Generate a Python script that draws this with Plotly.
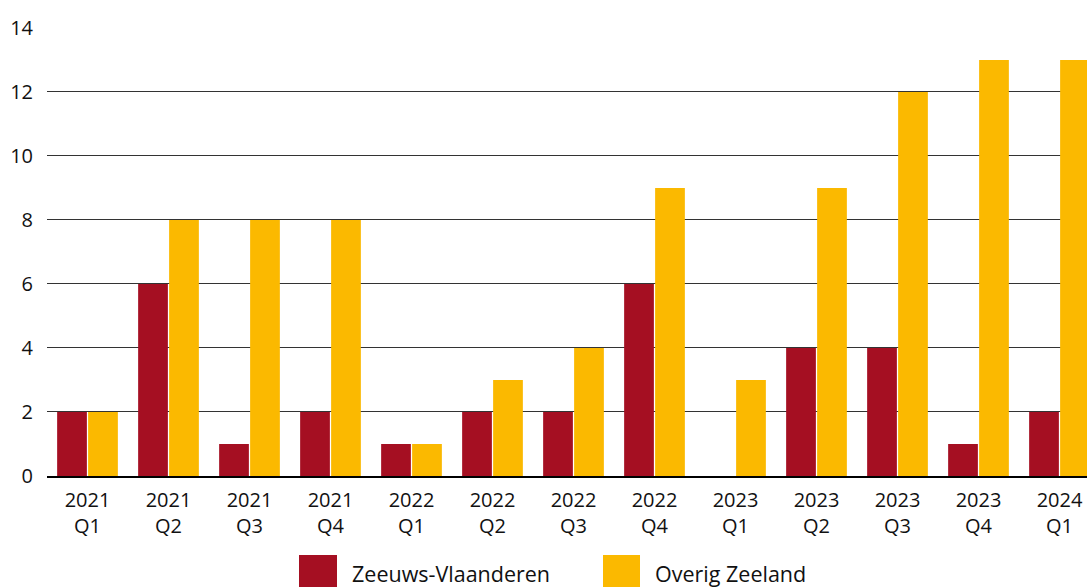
import plotly.graph_objects as go

categories = ["2021<br>Q1", "2021<br>Q2", "2021<br>Q3", "2021<br>Q4",
              "2022<br>Q1", "2022<br>Q2", "2022<br>Q3", "2022<br>Q4",
              "2023<br>Q1", "2023<br>Q2", "2023<br>Q3", "2023<br>Q4",
              "2024<br>Q1"]
zeeuws_vlaanderen = [2, 6, 1, 2, 1, 2, 2, 6, 0, 4, 4, 1, 2]
overig_zeeland = [2, 8, 8, 8, 1, 3, 4, 9, 3, 9, 12, 13, 13]
series_names = ["Zeeuws-Vlaanderen", "Overig Zeeland"]
colors = ["#A50F22", "#FBB900"]
y_ticks = [0, 2, 4, 6, 8, 10, 12, 14]

FONT = "Open Sans"
TXT = "#111111"
W, H = 1087, 587
L, R, T, B = 47, 0, 27, 111
pw, ph = W - L - R, H - T - B
cat_px = 81.0  # pixel width of one category slot

fig = go.Figure()
for name, vals, col in zip(series_names, [zeeuws_vlaanderen, overig_zeeland], colors):
    fig.add_trace(go.Bar(x=categories, y=vals, name=name, marker_color=col,
                         marker_line_width=0, showlegend=False))

fig.update_layout(
    width=W, height=H,
    margin=dict(l=L, r=R, t=T, b=B, pad=0, autoexpand=False),
    barmode="group", bargap=0.235, bargroupgap=0.04,
    plot_bgcolor="white", paper_bgcolor="white",
    font=dict(family=FONT, size=20, color=TXT),
    showlegend=False,
)
fig.update_xaxes(range=[-0.5, -0.5 + pw / cat_px], showgrid=False, showline=True,
                 linecolor="#000", linewidth=2, ticks="", ticklabelstandoff=5,
                 tickfont=dict(size=20, color=TXT))
fig.update_yaxes(range=[0, 14.03], tickvals=y_ticks, showgrid=True, gridcolor="#333",
                 gridwidth=1.3, zeroline=False, showline=False, ticks="",
                 ticklabelstandoff=13, tickfont=dict(size=20, color=TXT))

def px_x(p):
    return (p - L) / pw

def px_y(p):
    return (H - B - p) / ph

legend_items = [(299, 337, 353), (603, 640, 656)]
for (x0, x1, tx), name, col in zip(legend_items, series_names, colors):
    fig.add_shape(type="rect", xref="paper", yref="paper",
                  x0=px_x(x0), x1=px_x(x1), y0=px_y(588), y1=px_y(555),
                  fillcolor=col, line_width=0)
    fig.add_annotation(xref="paper", yref="paper", x=px_x(tx), y=px_y(573),
                       text=name, showarrow=False, xanchor="left", yanchor="middle",
                       xshift=-2, borderpad=0,
                       font=dict(family=FONT, size=21.5, color=TXT))

fig.write_html(
    "out.html",
    config={"displayModeBar": False},
    post_script="document.body.style.margin='0';document.body.style.overflow='hidden';",
)
